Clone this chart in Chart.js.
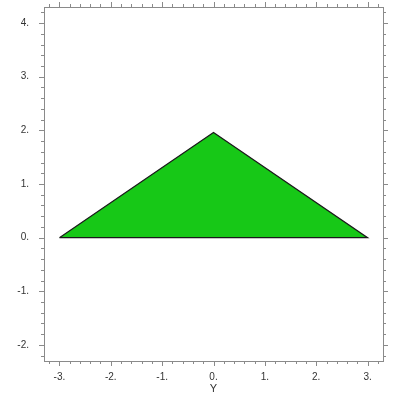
<!DOCTYPE html>
<html>
<head>
<meta charset="utf-8">
<script src="https://cdn.jsdelivr.net/npm/chart.js@4.4.1/dist/chart.umd.min.js"></script>
<style>
  html, body { margin: 0; padding: 0; background: #fff; }
  #wrap { width: 402px; height: 396px; }
</style>
</head>
<body>
<div id="wrap"><canvas id="plot"></canvas></div>
<script>
// triangle outline, closed back to the first corner
const shapeX = [-3, 0, 3, -3];
const shapeY = [0, 1.96, 0, 0];

const xRange = [-3.3, 3.3];
const yRange = [-2.3, 4.3];
const xTicks = [-3, -2, -1, 0, 1, 2, 3];
const yTicks = [-2, -1, 0, 1, 2, 3, 4];

const axisColor = '#8a8a8a';

// frame + outward tick marks on all four sides (major at integers, minor every 0.2)
const frameTicks = {
    id: 'frameTicks',
    afterDraw(chart) {
        const ctx = chart.ctx;
        const area = chart.chartArea;
        const sx = chart.scales.x, sy = chart.scales.y;
        ctx.save();
        ctx.strokeStyle = axisColor;
        ctx.lineWidth = 1;
        ctx.strokeRect(Math.round(area.left) + 0.5, Math.round(area.top) + 0.5,
            Math.round(area.right - area.left), Math.round(area.bottom - area.top));
        ctx.beginPath();
        for (let i = Math.ceil(xRange[0] * 5); i <= Math.floor(xRange[1] * 5); i++) {
            const v = i / 5;
            const len = (i % 5 === 0) ? 5 : 3;
            const px = Math.round(sx.getPixelForValue(v)) + 0.5;
            ctx.moveTo(px, area.bottom); ctx.lineTo(px, area.bottom + len);
            ctx.moveTo(px, area.top); ctx.lineTo(px, area.top - len);
        }
        for (let i = Math.ceil(yRange[0] * 5); i <= Math.floor(yRange[1] * 5); i++) {
            const v = i / 5;
            const len = (i % 5 === 0) ? 5 : 3;
            const py = Math.round(sy.getPixelForValue(v)) + 0.5;
            ctx.moveTo(area.left, py); ctx.lineTo(area.left - len, py);
            ctx.moveTo(area.right, py); ctx.lineTo(area.right + len, py);
        }
        ctx.stroke();
        ctx.restore();
    }
};

// labels sit well inside the range, so the scales need no edge padding
function noEdgePadding(scale) {
    scale.paddingTop = 0;
    scale.paddingBottom = 0;
    scale.paddingLeft = 0;
    scale.paddingRight = 0;
}

new Chart(document.getElementById('plot'), {
    type: 'scatter',
    data: {
        datasets: [{
            data: shapeX.map((x, i) => ({ x: x, y: shapeY[i] })),
            showLine: true,
            fill: 'shape',
            backgroundColor: '#17c817',
            borderColor: '#1a1a1a',
            borderWidth: 1.2,
            pointRadius: 0,
            tension: 0
        }]
    },
    options: {
        responsive: true,
        maintainAspectRatio: false,
        animation: false,
        layout: { padding: { left: 0, top: 7, right: 19, bottom: 0 } },
        plugins: { legend: { display: false }, tooltip: { enabled: false } },
        scales: {
            x: {
                type: 'linear',
                min: xRange[0],
                max: xRange[1],
                afterBuildTicks: (scale) => { scale.ticks = xTicks.map(v => ({ value: v })); },
                afterFit: (scale) => { scale.height = 35; noEdgePadding(scale); },
                grid: { display: false },
                border: { display: false },
                ticks: {
                    padding: 2,
                    color: '#333',
                    font: { family: 'Liberation Sans', size: 10 },
                    maxRotation: 0,
                    callback: (v) => v + '.'
                },
                title: {
                    display: true,
                    text: 'Y',
                    color: '#333',
                    font: { family: 'Liberation Sans', size: 11 },
                    padding: { top: 0, bottom: 0 }
                }
            },
            y: {
                type: 'linear',
                min: yRange[0],
                max: yRange[1],
                afterBuildTicks: (scale) => { scale.ticks = yTicks.map(v => ({ value: v })); },
                afterFit: (scale) => { scale.width = 44; noEdgePadding(scale); },
                grid: { display: false },
                border: { display: false },
                ticks: {
                    padding: 7,
                    color: '#333',
                    font: { family: 'Liberation Sans', size: 10 },
                    callback: (v) => v + '.'
                }
            }
        }
    },
    plugins: [frameTicks]
});
</script>
</body>
</html>
